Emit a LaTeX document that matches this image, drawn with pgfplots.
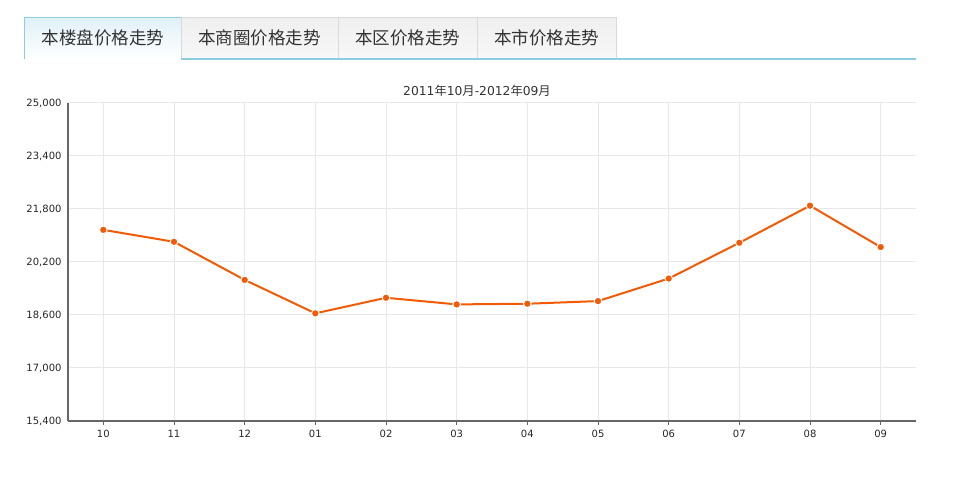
\documentclass[border=0pt]{standalone}
\usepackage{fontspec}
\setmainfont{DejaVu Sans}
\newfontfamily\cjk{Noto Sans CJK SC}
\usepackage{pgfplots}
\usepackage{pgfplotstable}
\pgfplotsset{compat=1.18}
\definecolor{linec}{HTML}{F25A05}
\definecolor{axisc}{HTML}{666666}
\definecolor{gridc}{HTML}{E8E8E8}
\definecolor{tabblue}{HTML}{8CCDE2}
\definecolor{tabbluefill}{HTML}{E0F1F8}
\definecolor{tabgray}{HTML}{DADADA}
\definecolor{tabgrayfill}{HTML}{EFEFEF}
\definecolor{txt}{HTML}{333333}

\pgfplotstableread{
x val
0 21170
1 20810
2 19660
3 18650
4 19120
5 18920
6 18940
7 19020
8 19700
9 20780
10 21900
11 20650
}\datatable

\begin{document}
\begin{tikzpicture}
\begin{scope}[shift={(-68bp,421bp)},x=1bp,y=1bp]
\path[use as bounding box] (0,0) rectangle (965,-481);
% tabs
\shade[top color=tabbluefill, bottom color=white] (25,-18) rectangle (181,-59);
\draw[tabblue, line width=1bp] (25,-59) -- (25,-18) -- (181,-18) -- (181,-59);
\foreach \a/\b in {181/338,338/477,477/616}{
  \shade[top color=tabgrayfill, bottom color=white!97!black] (\a,-18) rectangle (\b,-59);
  \draw[tabgray, line width=1bp] (\a,-59) -- (\a,-18) -- (\b,-18) -- (\b,-59);
}
\draw[tabblue, line width=2bp] (181,-59) -- (916,-59);
\node[txt, font=\cjk\fontsize{17.5bp}{20bp}\selectfont] at (103,-38) {本楼盘价格走势};
\node[txt, font=\cjk\fontsize{17.5bp}{20bp}\selectfont] at (259.5,-38) {本商圈价格走势};
\node[txt, font=\cjk\fontsize{17.5bp}{20bp}\selectfont] at (407.5,-38) {本区价格走势};
\node[txt, font=\cjk\fontsize{17.5bp}{20bp}\selectfont] at (546.5,-38) {本市价格走势};
\end{scope}
\begin{axis}[
  scale only axis,
  width=848bp, height=318bp,
  xmin=-0.5, xmax=11.5,
  ymin=15400, ymax=25000,
  xtick={0,...,11},
  xticklabels={10,11,12,01,02,03,04,05,06,07,08,09},
  ytick={15400,17000,18600,20200,21800,23400,25000},
  scaled y ticks=false,
  /pgf/number format/assume math mode=true,
  yticklabel style={/pgf/number format/fixed, /pgf/number format/1000 sep={,}, xshift=1bp},
  axis x line*=bottom, axis y line*=left,
  axis line style={axisc, line width=2bp, -},
  grid=major,
  major grid style={gridc, line width=1bp},
  tick align=outside,
  major tick length=4bp,
  xtick style={axisc, line width=1bp},
  ytick style={draw=none},
  tick label style={font=\fontsize{10bp}{12bp}\selectfont, text=black!85},
  xticklabel style={yshift=-2bp},
  title={2011{\cjk 年}10{\cjk 月}-2012{\cjk 年}09{\cjk 月}},
  title style={font=\fontsize{12.3bp}{14bp}\selectfont, text=txt, at={(0.5,1)}, anchor=center, yshift=6bp, xshift=-15bp},
]
\addplot[linec, line width=2bp, mark=*, mark size=3.8bp,
  mark options={fill=linec, draw=white, line width=1bp}] table[x=x, y=val] {\datatable};
\end{axis}
\end{tikzpicture}
\end{document}
